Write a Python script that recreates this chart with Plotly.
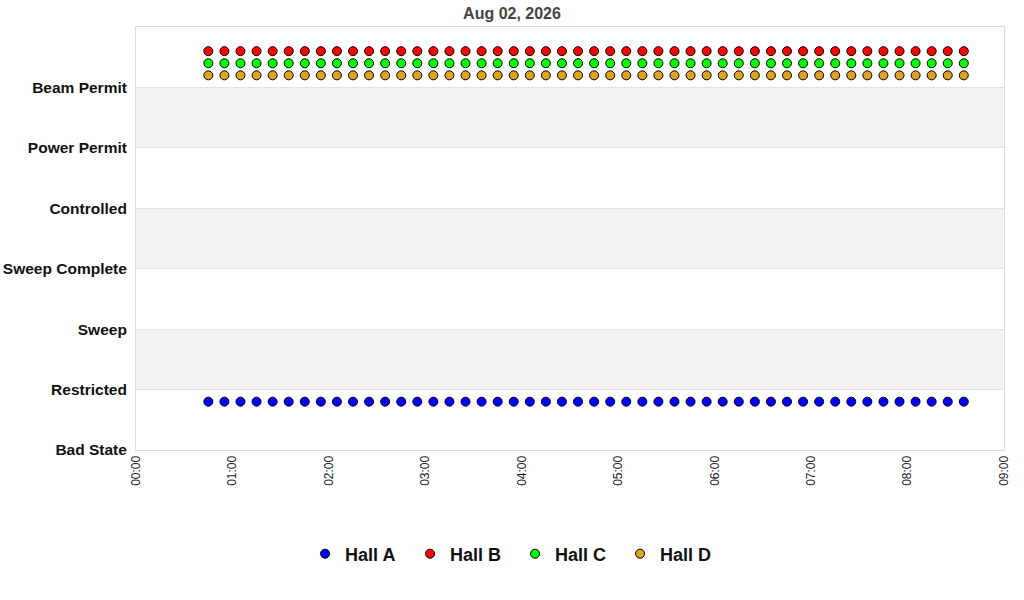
import plotly.graph_objects as go

# status codes shown on the y axis
states = ["Bad State", "Restricted", "Sweep", "Sweep Complete",
          "Controlled", "Power Permit", "Beam Permit"]
state_vals = [0, 1, 2, 3, 4, 5, 6]

day = "2026-08-02"
times = [
    "00:45", "00:55",
    "01:05", "01:15", "01:25", "01:35", "01:45", "01:55",
    "02:05", "02:15", "02:25", "02:35", "02:45", "02:55",
    "03:05", "03:15", "03:25", "03:35", "03:45", "03:55",
    "04:05", "04:15", "04:25", "04:35", "04:45", "04:55",
    "05:05", "05:15", "05:25", "05:35", "05:45", "05:55",
    "06:05", "06:15", "06:25", "06:35", "06:45", "06:55",
    "07:05", "07:15", "07:25", "07:35", "07:45", "07:55",
    "08:05", "08:15", "08:25", "08:35",
]

hall_a = [0.8, 0.8, 0.8, 0.8, 0.8, 0.8, 0.8, 0.8, 0.8, 0.8, 0.8, 0.8,
          0.8, 0.8, 0.8, 0.8, 0.8, 0.8, 0.8, 0.8, 0.8, 0.8, 0.8, 0.8,
          0.8, 0.8, 0.8, 0.8, 0.8, 0.8, 0.8, 0.8, 0.8, 0.8, 0.8, 0.8,
          0.8, 0.8, 0.8, 0.8, 0.8, 0.8, 0.8, 0.8, 0.8, 0.8, 0.8, 0.8]
hall_b = [6.6, 6.6, 6.6, 6.6, 6.6, 6.6, 6.6, 6.6, 6.6, 6.6, 6.6, 6.6,
          6.6, 6.6, 6.6, 6.6, 6.6, 6.6, 6.6, 6.6, 6.6, 6.6, 6.6, 6.6,
          6.6, 6.6, 6.6, 6.6, 6.6, 6.6, 6.6, 6.6, 6.6, 6.6, 6.6, 6.6,
          6.6, 6.6, 6.6, 6.6, 6.6, 6.6, 6.6, 6.6, 6.6, 6.6, 6.6, 6.6]
hall_c = [6.4, 6.4, 6.4, 6.4, 6.4, 6.4, 6.4, 6.4, 6.4, 6.4, 6.4, 6.4,
          6.4, 6.4, 6.4, 6.4, 6.4, 6.4, 6.4, 6.4, 6.4, 6.4, 6.4, 6.4,
          6.4, 6.4, 6.4, 6.4, 6.4, 6.4, 6.4, 6.4, 6.4, 6.4, 6.4, 6.4,
          6.4, 6.4, 6.4, 6.4, 6.4, 6.4, 6.4, 6.4, 6.4, 6.4, 6.4, 6.4]
hall_d = [6.2, 6.2, 6.2, 6.2, 6.2, 6.2, 6.2, 6.2, 6.2, 6.2, 6.2, 6.2,
          6.2, 6.2, 6.2, 6.2, 6.2, 6.2, 6.2, 6.2, 6.2, 6.2, 6.2, 6.2,
          6.2, 6.2, 6.2, 6.2, 6.2, 6.2, 6.2, 6.2, 6.2, 6.2, 6.2, 6.2,
          6.2, 6.2, 6.2, 6.2, 6.2, 6.2, 6.2, 6.2, 6.2, 6.2, 6.2, 6.2]

halls = ["Hall A", "Hall B", "Hall C", "Hall D"]
hall_colors = ["#0000FF", "#FF0000", "#00FF00", "#DAA520"]

# shaded bands between every other pair of states
bands = [(1, 2), (3, 4), (5, 6)]

x = [day + " " + t for t in times]

W, H = 1024, 600

fig = go.Figure()
for name, ys, col in zip(halls, [hall_a, hall_b, hall_c, hall_d], hall_colors):
    fig.add_trace(go.Scatter(
        x=x, y=ys, name=name, mode="markers",
        marker={"size": 9, "color": col, "line": {"color": "black", "width": 1}},
    ))

for y0, y1 in bands:
    fig.add_shape(type="rect", xref="paper", yref="y", x0=0, x1=1, y0=y0, y1=y1,
                  fillcolor="#F2F2F2", line_width=0, layer="below")

fig.update_xaxes(
    type="date",
    range=[day + " 00:00", day + " 09:00"],
    dtick=3600000, tickformat="%H:%M", tickangle=-90,
    showgrid=False, zeroline=False, automargin=False,
    showline=True, mirror=True, linecolor="#DCDCDC", linewidth=1,
    ticks="", tickfont={"family": "Liberation Sans, Arial", "size": 12, "color": "#222"},
)
fig.update_yaxes(
    range=[0, 7], tickvals=state_vals, ticktext=states,
    showgrid=True, gridcolor="#E2E2E2", zeroline=False, automargin=False,
    showline=True, mirror=True, linecolor="#DCDCDC", linewidth=1,
    ticks="", ticklabelstandoff=5,
    tickfont={"family": "Liberation Sans, Arial", "size": 15.5, "color": "#111", "weight": "bold"},
)

fig.update_layout(
    width=W, height=H,
    margin={"l": 136, "r": 20, "t": 27, "b": 150},
    plot_bgcolor="white", paper_bgcolor="white",
    font={"family": "Liberation Sans, Arial"},
    title={"text": "<b>Aug 02, 2026</b>", "x": 0.5, "xref": "container",
           "y": 1 - 13 / H, "yref": "container", "yanchor": "middle",
           "font": {"size": 16, "color": "#444"}},
    legend={"orientation": "h", "xref": "container", "x": 0.503, "xanchor": "center",
            "yref": "container", "y": 1 - 554 / H, "yanchor": "middle",
            "font": {"size": 18, "color": "#111", "weight": "bold"},
            "entrywidth": 60},
    showlegend=True,
)

# drop the browser's default body margin so the figure fills the window
fig.write_html("out.html", config={"displayModeBar": False},
               post_script="document.body.style.margin = '0';")
